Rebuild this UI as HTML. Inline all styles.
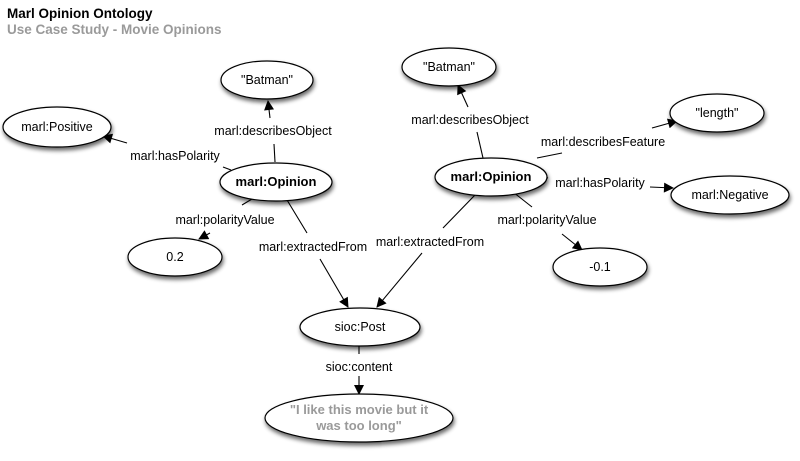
<!DOCTYPE html>
<html><head><meta charset="utf-8"><style>
html,body{margin:0;padding:0;background:#fff;}
svg{display:block;}
text{font-family:"Liberation Sans",Arial,sans-serif;}
</style></head><body>
<svg width="800" height="461" viewBox="0 0 800 461" xmlns="http://www.w3.org/2000/svg">
<defs>
<filter id="sh" x="-20%" y="-30%" width="140%" height="180%">
<feGaussianBlur in="SourceAlpha" stdDeviation="2"/>
<feOffset dx="1" dy="3" result="b"/>
<feComponentTransfer><feFuncA type="linear" slope="0.6"/></feComponentTransfer>
<feMerge><feMergeNode/><feMergeNode in="SourceGraphic"/></feMerge>
</filter>
<marker id="ar" viewBox="0 0 10 10" refX="9" refY="5" markerWidth="11" markerHeight="10" markerUnits="userSpaceOnUse" orient="auto">
<path d="M0,0 L10,5 L0,10 z" fill="#000"/>
</marker>
</defs>
<rect width="800" height="461" fill="#fff"/>
<text x="7" y="18" font-size="13.5" font-weight="bold" fill="#000">Marl Opinion Ontology</text>
<text x="7" y="34" font-size="13.5" font-weight="bold" fill="#9a9a9a">Use Case Study - Movie Opinions</text>

<g stroke="#000" stroke-width="1.1" fill="none">
<line x1="275" y1="162" x2="274" y2="144"/>
<line x1="270" y1="118" x2="268" y2="101" marker-end="url(#ar)"/>
<line x1="231" y1="170" x2="223" y2="167"/>
<line x1="127" y1="143" x2="103" y2="136" marker-end="url(#ar)"/>
<line x1="252" y1="199" x2="242" y2="205"/>
<line x1="210" y1="233" x2="199" y2="239" marker-end="url(#ar)"/>
<line x1="287" y1="200" x2="307" y2="233"/>
<line x1="320" y1="259" x2="348" y2="307" marker-end="url(#ar)"/>
<line x1="483" y1="158" x2="477" y2="132"/>
<line x1="468" y1="107" x2="458" y2="85" marker-end="url(#ar)"/>
<line x1="537" y1="158" x2="562" y2="153"/>
<line x1="652" y1="128" x2="677" y2="121" marker-end="url(#ar)"/>
<line x1="545" y1="177" x2="548" y2="178"/>
<line x1="650" y1="187" x2="673" y2="188" marker-end="url(#ar)"/>
<line x1="513" y1="192" x2="532" y2="207"/>
<line x1="562" y1="234" x2="582" y2="250" marker-end="url(#ar)"/>
<line x1="475" y1="195" x2="443" y2="228"/>
<line x1="422" y1="253" x2="377" y2="307" marker-end="url(#ar)"/>
<line x1="359" y1="346" x2="359" y2="354"/>
<line x1="359" y1="376" x2="359" y2="394" marker-end="url(#ar)"/>
</g>

<g fill="#fff" stroke="#000" stroke-width="1.2" filter="url(#sh)">
<ellipse cx="267" cy="80" rx="46" ry="19"/>
<ellipse cx="57" cy="127" rx="54" ry="20"/>
<ellipse cx="276" cy="182" rx="56" ry="19"/>
<ellipse cx="175" cy="257" rx="47" ry="19"/>
<ellipse cx="449" cy="67" rx="47" ry="19"/>
<ellipse cx="717" cy="113" rx="47" ry="19"/>
<ellipse cx="491" cy="177" rx="56" ry="19"/>
<ellipse cx="730" cy="195" rx="59" ry="19"/>
<ellipse cx="600" cy="267" rx="47" ry="19"/>
<ellipse cx="360" cy="327" rx="60" ry="19"/>
<ellipse cx="359" cy="418" rx="94" ry="24"/>
</g>

<g font-size="12.5" fill="#000" text-anchor="middle">
<text x="267" y="84">"Batman"</text>
<text x="57" y="131">marl:Positive</text>
<text x="276" y="186" font-weight="bold" font-size="13">marl:Opinion</text>
<text x="175" y="261">0.2</text>
<text x="449" y="71">"Batman"</text>
<text x="717" y="117">"length"</text>
<text x="491" y="181" font-weight="bold" font-size="13">marl:Opinion</text>
<text x="730" y="199">marl:Negative</text>
<text x="600" y="271">-0.1</text>
<text x="360" y="331">sioc:Post</text>
<text x="359" y="414" font-weight="bold" font-size="13" fill="#9a9a9a">"I like this movie but it</text>
<text x="359" y="430" font-weight="bold" font-size="13" fill="#9a9a9a">was too long"</text>

<text x="273" y="135">marl:describesObject</text>
<text x="175" y="160">marl:hasPolarity</text>
<text x="225" y="224">marl:polarityValue</text>
<text x="313" y="251">marl:extractedFrom</text>
<text x="470" y="124">marl:describesObject</text>
<text x="603" y="146">marl:describesFeature</text>
<text x="600" y="187">marl:hasPolarity</text>
<text x="547" y="224">marl:polarityValue</text>
<text x="430" y="246">marl:extractedFrom</text>
<text x="359" y="371">sioc:content</text>
</g>
</svg>
</body></html>
